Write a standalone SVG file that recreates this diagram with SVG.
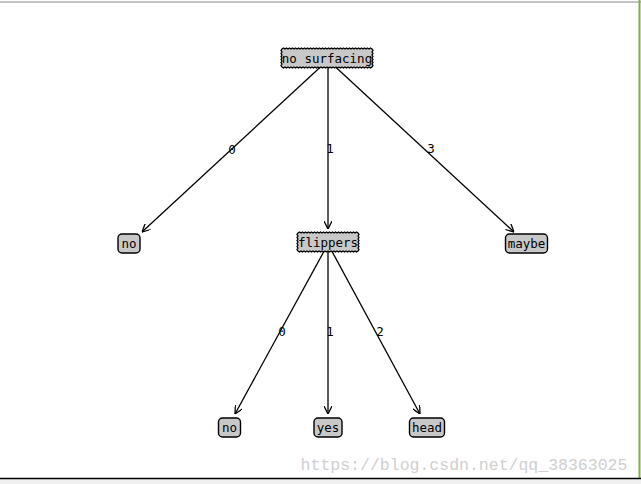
<svg xmlns="http://www.w3.org/2000/svg" width="641" height="484" viewBox="0 0 641 484">
<style>
.t{font-family:"DejaVu Sans Mono","Liberation Mono",monospace;font-size:12.5px;fill:#000;text-anchor:middle;dominant-baseline:central}
.leaf{fill:#c8c8c8;stroke:#000;stroke-width:1.4}
.dec{fill:#c8c8c8;stroke:#000;stroke-width:1.3}
.e{stroke:#000;stroke-width:1.3;fill:none;marker-end:url(#ah)}
</style>
<defs>
<marker id="ah" viewBox="0 0 10 10" refX="10" refY="5" markerWidth="8" markerHeight="8" markerUnits="userSpaceOnUse" orient="auto">
<path d="M0,0 L10,5 L0,10" fill="none" stroke="#000" stroke-width="1.6"/>
</marker>
</defs>
<rect x="0" y="0" width="641" height="484" fill="#fff"/>
<line x1="0" y1="2" x2="641" y2="2" stroke="#c4c4c4" stroke-width="2"/>
<line x1="639.5" y1="0" x2="639.5" y2="479" stroke="#7fb040" stroke-width="2"/>
<rect x="0" y="479" width="641" height="5" fill="#f0f0f0"/>
<line x1="0" y1="478.5" x2="641" y2="478.5" stroke="#000" stroke-width="1.5"/>
<text x="464" y="465" font-family="Liberation Mono,monospace" font-size="16.5" fill="#d0d0d0" text-anchor="middle" dominant-baseline="central">https://blog.csdn.net/qq_38363025</text>
<g id="connectors">
<path class="e" d="M328,60 L142,232"/>
<path class="e" d="M328,60 L328,229"/>
<path class="e" d="M328,60 L514,232"/>
<path class="e" d="M328,244 L235,414"/>
<path class="e" d="M328,244 L328,414"/>
<path class="e" d="M328,244 L420,414"/>
<text class="t" x="232" y="149">0</text>
<text class="t" x="330" y="148">1</text>
<text class="t" x="431" y="148">3</text>
<text class="t" x="282" y="331">0</text>
<text class="t" x="330" y="331">1</text>
<text class="t" x="380" y="331">2</text>
</g>
<g id="n_root">
<path class="dec" d="M282,49
l1.5-1 1.5 1 1.5-1 1.5 1 1.5-1 1.5 1 1.5-1 1.5 1 1.5-1 1.5 1
l1.5-1 1.5 1 1.5-1 1.5 1 1.5-1 1.5 1 1.5-1 1.5 1 1.5-1 1.5 1
l1.5-1 1.5 1 1.5-1 1.5 1 1.5-1 1.5 1 1.5-1 1.5 1 1.5-1 1.5 1
l1.5-1 1.5 1 1.5-1 1.5 1 1.5-1 1.5 1 1.5-1 1.5 1 1.5-1 1.5 1
l1.5-1 1.5 1 1.5-1 1.5 1 1.5-1 1.5 1 1.5-1 1.5 1 1.5-1 1.5 1
l1.5-1 1.5 1 1.5-1 1.5 1 1.5-1 1.5 1 1.5-1 1.5 1 1.5-1 1.5 1
l1 1.5-1 1.5 1 1.5-1 1.5 1 1.5-1 1.5
l1 1.5-1 1.5 1 1.5-1 1.5 1 1.5-1 1.5
l-1.5 1-1.5-1-1.5 1-1.5-1-1.5 1-1.5-1-1.5 1-1.5-1-1.5 1-1.5-1
l-1.5 1-1.5-1-1.5 1-1.5-1-1.5 1-1.5-1-1.5 1-1.5-1-1.5 1-1.5-1
l-1.5 1-1.5-1-1.5 1-1.5-1-1.5 1-1.5-1-1.5 1-1.5-1-1.5 1-1.5-1
l-1.5 1-1.5-1-1.5 1-1.5-1-1.5 1-1.5-1-1.5 1-1.5-1-1.5 1-1.5-1
l-1.5 1-1.5-1-1.5 1-1.5-1-1.5 1-1.5-1-1.5 1-1.5-1-1.5 1-1.5-1
l-1.5 1-1.5-1-1.5 1-1.5-1-1.5 1-1.5-1-1.5 1-1.5-1-1.5 1-1.5-1
l-1-1.5 1-1.5-1-1.5 1-1.5-1-1.5 1-1.5
l-1-1.5 1-1.5-1-1.5 1-1.5-1-1.5 1-1.5 z"/>
<text class="t" x="327" y="58.5">no surfacing</text>
</g>
<g id="n_flippers">
<path class="dec" d="M298,233
l1.5-1 1.5 1 1.5-1 1.5 1 1.5-1 1.5 1 1.5-1 1.5 1 1.5-1 1.5 1
l1.5-1 1.5 1 1.5-1 1.5 1 1.5-1 1.5 1 1.5-1 1.5 1 1.5-1 1.5 1
l1.5-1 1.5 1 1.5-1 1.5 1 1.5-1 1.5 1 1.5-1 1.5 1 1.5-1 1.5 1
l1.5-1 1.5 1 1.5-1 1.5 1 1.5-1 1.5 1 1.5-1 1.5 1 1.5-1 1.5 1
l1 1.5-1 1.5 1 1.5-1 1.5 1 1.5-1 1.5
l1 1.5-1 1.5 1 1.5-1 1.5 1 1.5-1 1.5
l-1.5 1-1.5-1-1.5 1-1.5-1-1.5 1-1.5-1-1.5 1-1.5-1-1.5 1-1.5-1
l-1.5 1-1.5-1-1.5 1-1.5-1-1.5 1-1.5-1-1.5 1-1.5-1-1.5 1-1.5-1
l-1.5 1-1.5-1-1.5 1-1.5-1-1.5 1-1.5-1-1.5 1-1.5-1-1.5 1-1.5-1
l-1.5 1-1.5-1-1.5 1-1.5-1-1.5 1-1.5-1-1.5 1-1.5-1-1.5 1-1.5-1
l-1-1.5 1-1.5-1-1.5 1-1.5-1-1.5 1-1.5
l-1-1.5 1-1.5-1-1.5 1-1.5-1-1.5 1-1.5 z"/>
<text class="t" x="328" y="242.5">flippers</text>
</g>
<g id="n_no1">
<rect class="leaf" x="118" y="234" width="22" height="19" rx="4"/>
<text class="t" x="129" y="243">no</text>
</g>
<g id="n_maybe">
<rect class="leaf" x="505.5" y="234" width="42" height="19" rx="4"/>
<text class="t" x="526.5" y="243">maybe</text>
</g>
<g id="n_no2">
<rect class="leaf" x="218.5" y="418" width="22" height="19" rx="4"/>
<text class="t" x="229.5" y="427">no</text>
</g>
<g id="n_yes">
<rect class="leaf" x="314" y="418" width="28" height="19" rx="4"/>
<text class="t" x="328" y="427">yes</text>
</g>
<g id="n_head">
<rect class="leaf" x="409.5" y="418" width="35" height="19" rx="4"/>
<text class="t" x="427" y="427">head</text>
</g>
</svg>
